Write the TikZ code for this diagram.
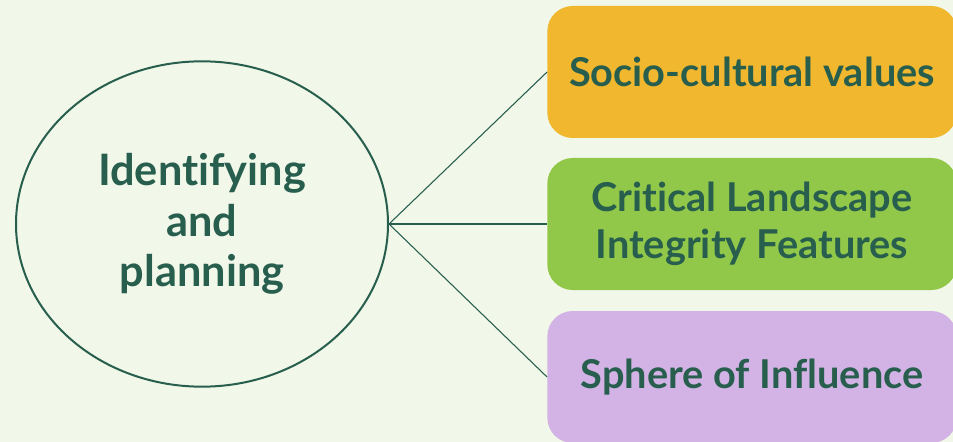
\documentclass[tikz,border=0pt]{standalone}
\usepackage{fontspec}
\setmainfont[Ligatures=NoCommon]{Lato}
\usetikzlibrary{shapes.geometric}
\definecolor{bgcol}{HTML}{F1F7E9}
\definecolor{ink}{HTML}{275E4D}
\definecolor{sunny}{HTML}{F0B72F}
\definecolor{leafy}{HTML}{92C84A}
\definecolor{lilac}{HTML}{D3B3E5}
\tikzset{
  topic/.style={rounded corners=19pt, minimum width=307pt, minimum height=99pt,
    inner sep=0pt, align=center, text=ink, font=\fontsize{29.8}{35.5}\selectfont\bfseries},
  link/.style={draw=ink, line width=0.8pt}
}

\begin{document}
\begin{tikzpicture}[x=0.75pt, y=-0.75pt]
  \useasboundingbox[fill=bgcol] (0,0) rectangle (953,442);
  \node[ellipse, draw=ink, line width=1.5pt, minimum width=279pt, minimum height=244pt,
        inner sep=0pt, align=center, text=ink,
        font=\fontsize{32.5}{38}\selectfont\bfseries] (plan) at (202,224)
        {Identifying\\and\\planning};
  \node[topic, fill=sunny] (socio) at (752,72) {Socio-cultural values};
  \node[topic, fill=leafy] (crit) at (752,224) {Critical Landscape\\Integrity Features};
  \node[topic, fill=lilac] (sphere) at (752,377) {Sphere of Influence};
  \draw[link] (plan.east) -- (socio.west);
  \draw[link] (plan.east) -- (crit.west);
  \draw[link] (plan.east) -- (sphere.west);
\end{tikzpicture}
\end{document}
